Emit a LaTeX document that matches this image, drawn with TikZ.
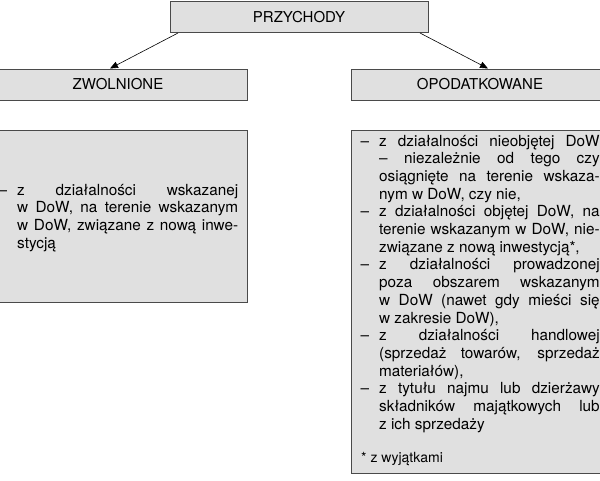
\documentclass[tikz,border=0pt]{standalone}
\usepackage{fontspec}
\setmainfont{TeX Gyre Heros}
\usetikzlibrary{arrows.meta,calc}
\definecolor{boxfill}{HTML}{E0E0E0}
\definecolor{boxline}{HTML}{4A4A4A}
\newcommand\dashitem[1]{\par\hangindent=18.5pt\hangafter=1\noindent\makebox[18.5pt][l]{–}#1}
\newcommand\bodyset{\fontsize{15.3}{17.7}\selectfont\tolerance=10000\hbadness=10000\hfuzz=4pt\parindent=0pt\parskip=0pt}
\begin{document}
\begin{tikzpicture}[x=1pt,y=-1pt,
  box/.style={draw=boxline, fill=boxfill, line width=1pt, inner sep=0pt,
              minimum width=258pt},
  lblbox/.style={box, minimum height=31pt, font=\fontsize{15}{17}\selectfont},
  txt/.style={anchor=base west, inner sep=0pt},
  conn/.style={-{Triangle[length=8pt,width=6.5pt]}, line width=0.6pt, black}]
\useasboundingbox (0,0) rectangle (600,480);
\begin{scope}
\clip (0,0) rectangle (600,480);
\node[lblbox] (top) at (299,17) {PRZYCHODY};
\node[lblbox] (zw) at (118,84.5) {ZWOLNIONE};
\node[lblbox] (op) at (480,84.5) {OPODATKOWANE};
\node[box, minimum height=172pt] (lb) at (118,216) {};
\node[box, minimum height=343pt] (rb) at (480,301.5) {};
\node[txt] (lt) at (-1.5,195) {\parbox[t]{239.5pt}{\bodyset
\dashitem{z działalności wskazanej\linebreak w DoW, na terenie wskazanym\linebreak w DoW, związane z nową inwe-\linebreak stycją}}};
\node[txt] (rt) at (360.5,146) {\parbox[t]{239pt}{\bodyset
\dashitem{z działalności nieobjętej DoW\linebreak – niezależnie od tego czy\linebreak osiągnięte na terenie wskaza-\linebreak nym w DoW, czy nie,}
\dashitem{z działalności objętej DoW, na\linebreak terenie wskazanym w DoW, nie-\linebreak związane z nową inwestycją*,}
\dashitem{z działalności prowadzonej\linebreak poza obszarem wskazanym\linebreak w DoW (nawet gdy mieści się\linebreak w zakresie DoW),}
\dashitem{z działalności handlowej\linebreak (sprzedaż towarów, sprzedaż\linebreak materiałów),}
\dashitem{z tytułu najmu lub dzierżawy\linebreak składników majątkowych lub\linebreak z ich sprzedaży}}};
\node[txt, font=\fontsize{14}{16}\selectfont] (fn) at (361,462) {* z wyjątkami};
\draw[conn] ($(top.south west)+(8.5,0)$) -- ($(zw.north)+(-8,0)$);
\draw[conn] ($(top.south east)+(-8.5,0)$) -- ($(op.north)+(8,0)$);
\end{scope}
\end{tikzpicture}
\end{document}
